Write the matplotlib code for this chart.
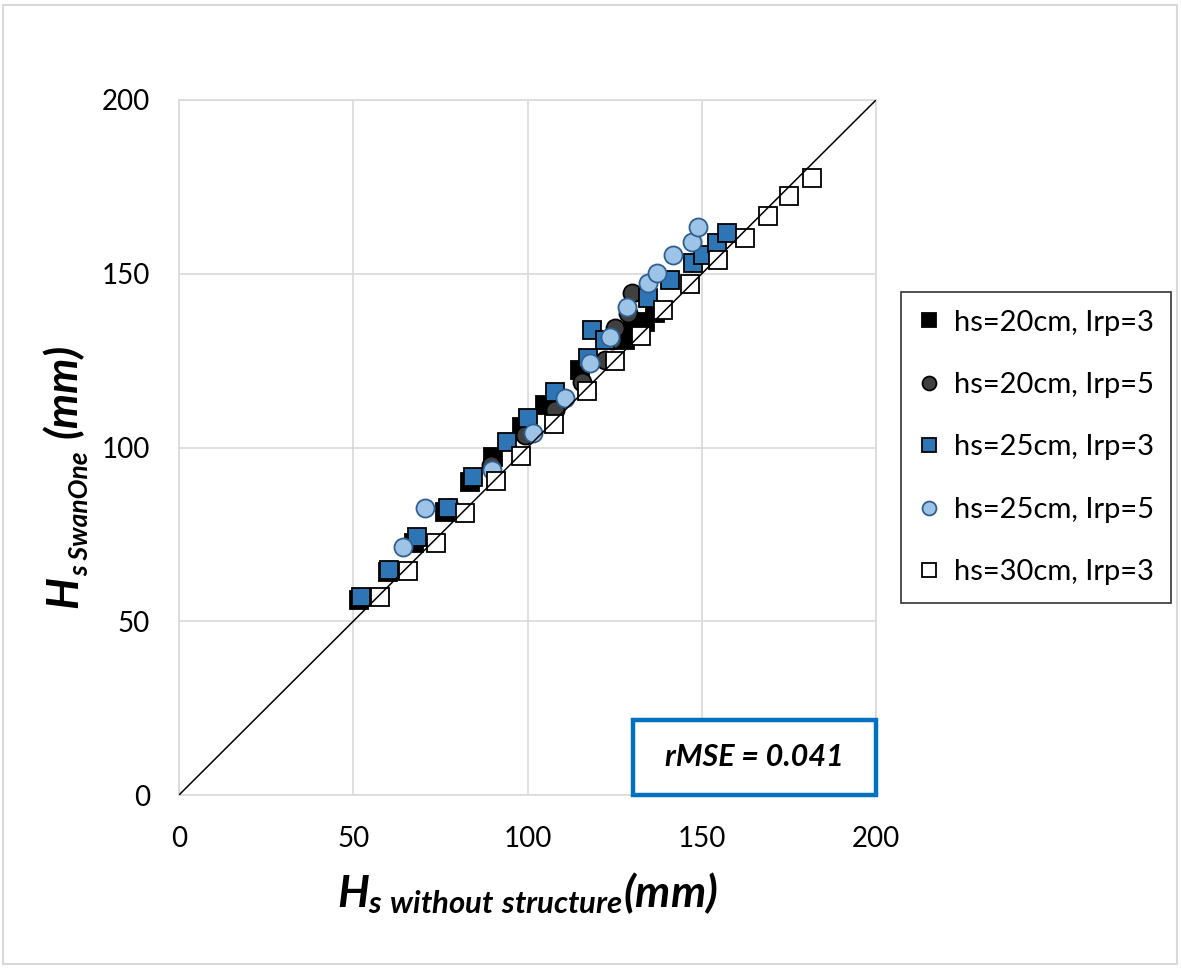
import matplotlib
matplotlib.use('Agg')
import matplotlib.pyplot as plt
from matplotlib.patches import Rectangle
from matplotlib.lines import Line2D

plt.rcParams['font.family'] = ['Lato', 'DejaVu Sans']
plt.rcParams['mathtext.fontset'] = 'custom'
plt.rcParams['mathtext.it'] = 'Lato:italic:bold'
plt.rcParams['mathtext.rm'] = 'Lato:bold'
plt.rcParams['mathtext.bf'] = 'Lato:bold'

# ---------------- data ----------------
labels = ["hs=20cm, Irp=3", "hs=20cm, Irp=5", "hs=25cm, Irp=3",
          "hs=25cm, Irp=5", "hs=30cm, Irp=3"]

x_20_3 = [51.6, 60.0, 67.4, 76.3, 83.5, 90.1, 98.4, 105.0, 115.1, 128.0, 130.3, 133.7, 136.6]
y_20_3 = [56.1, 64.2, 72.5, 81.4, 90.1, 97.3, 105.9, 112.2, 122.3, 131.0, 133.8, 136.1, 138.7]

x_20_5 = [77.8, 89.5, 99.3, 107.9, 115.6, 122.2, 124.2, 125.1, 128.8, 130.0]
y_20_5 = [82.6, 95.0, 103.6, 110.8, 118.8, 125.2, 130.9, 134.4, 138.7, 144.5]

x_25_3 = [52.2, 60.3, 68.3, 77.2, 84.4, 94.1, 100.1, 107.9, 117.4, 118.5, 122.2,
          134.6, 140.9, 147.5, 150.4, 154.4, 157.2]
y_25_3 = [57.0, 64.7, 74.2, 82.6, 91.5, 101.6, 108.5, 116.0, 125.8, 133.8, 130.9,
          143.0, 148.2, 153.1, 155.4, 158.8, 161.7]

x_25_5 = [64.3, 70.6, 89.8, 101.6, 110.8, 117.9, 123.7, 128.6, 134.6, 137.2, 141.8, 147.2, 148.9]
y_25_5 = [71.4, 82.6, 93.5, 104.2, 114.2, 124.3, 131.8, 140.4, 147.3, 150.2, 155.4, 159.1, 163.5]

x_30_3 = [57.7, 65.7, 73.7, 82.1, 91.0, 98.1, 107.6, 117.1, 125.1, 132.6, 138.9,
          146.6, 154.7, 162.4, 169.0, 175.0, 181.6]
y_30_3 = [57.0, 64.5, 72.5, 81.2, 90.4, 97.6, 106.8, 116.3, 124.9, 132.1, 139.6,
          147.1, 154.0, 160.3, 166.6, 172.4, 177.6]

ticks = [0, 50, 100, 150, 200]
rmse_text = "rMSE = 0.041"

# ---------------- figure ----------------
W, H = 1181, 969
fig = plt.figure(figsize=(W / 100, H / 100), dpi=100)
ax = fig.add_axes([179 / W, 1 - 795 / H, 697 / W, 695 / H])

grid_c = '#d9d9d9'
ax.set_xlim(0, 200)
ax.set_ylim(0, 200)
ax.set_xticks(ticks)
ax.set_yticks(ticks)
ax.grid(True, color=grid_c, lw=1.2, zorder=0)
ax.set_axisbelow(True)
for sp in ax.spines.values():
    sp.set_color(grid_c)
    sp.set_linewidth(1.2)
ax.tick_params(length=0, labelsize=20, colors='black')
ax.tick_params(axis='x', pad=22)
ax.tick_params(axis='y', pad=21)

ms = 13
styles = [
    dict(marker='s', mfc='black', mec='black'),
    dict(marker='o', mfc='#404040', mec='black'),
    dict(marker='s', mfc='#2E75B6', mec='black'),
    dict(marker='o', mfc='#9DC3E6', mec='#2F5F8F'),
    dict(marker='s', mfc='white', mec='black'),
]
data = [(x_20_3, y_20_3), (x_20_5, y_20_5), (x_25_3, y_25_3),
        (x_25_5, y_25_5), (x_30_3, y_30_3)]
for i, ((xs, ys), st, lab) in enumerate(zip(data, styles, labels)):
    ax.plot(xs, ys, ls='none', ms=ms, mew=1.3, label=lab, zorder=3 + i, **st)

# 1:1 line
ax.plot([0, 200], [0, 200], color='black', lw=1.1, zorder=9)

# rMSE box
x0 = 130.3
ax.add_patch(Rectangle((x0, 0), 200 - x0, 21.6, fc='white', ec='#0070C0',
                       lw=3.2, zorder=10, clip_on=False))
ax.text((x0 + 200) / 2, 10.8, rmse_text, ha='center', va='center',
        fontsize=22, fontweight='bold', style='italic', zorder=11)

# x axis label
fig.text(527 / W, 1 - 893 / H, r'$H_{s\ without\ structure}$(mm)', ha='center',
         va='center', fontsize=32, fontweight='bold', style='italic')

# y axis label, composed from pieces (smaller subscript)
renderer = fig.canvas.get_renderer()
txt_kw = dict(fontweight='bold', style='italic')


def text_width(s, size):
    t = fig.text(0, 0, s, fontsize=size, **txt_kw)
    w = t.get_window_extent(renderer).width
    t.remove()
    return w


pieces = [("H", 32, 0), ("s SwanOne", 19, 11), ("(mm)", 32, 0)]
gaps = [0, 0, 14]
xb = 77          # baseline x in pixels (from left)
ypos = 608       # bottom start in pixels (from top)
for (s, size, off), g in zip(pieces, gaps):
    ypos -= g
    fig.text((xb + off) / W, 1 - ypos / H, s, fontsize=size, rotation=90,
             rotation_mode='anchor', ha='left', va='baseline', **txt_kw)
    ypos -= text_width(s, size)

# legend
handles = [Line2D([], [], ls='none', ms=10, mew=1.3, **st) for st in styles]
leg = fig.legend(handles, labels, loc='upper left',
                 bbox_to_anchor=(901 / W, 1 - 292 / H), borderaxespad=0,
                 fontsize=21, frameon=True, fancybox=False, edgecolor='black',
                 handlelength=0.7, handletextpad=0.5, labelspacing=1.25,
                 borderpad=0.6)
leg.get_frame().set_linewidth(1.2)

# outer chart border
fig.patches.append(Rectangle((3 / W, 1 - 964 / H), 1174 / W, 959 / H,
                             transform=fig.transFigure, fill=False,
                             ec=grid_c, lw=1.5))

fig.savefig('out.png', dpi=100)
